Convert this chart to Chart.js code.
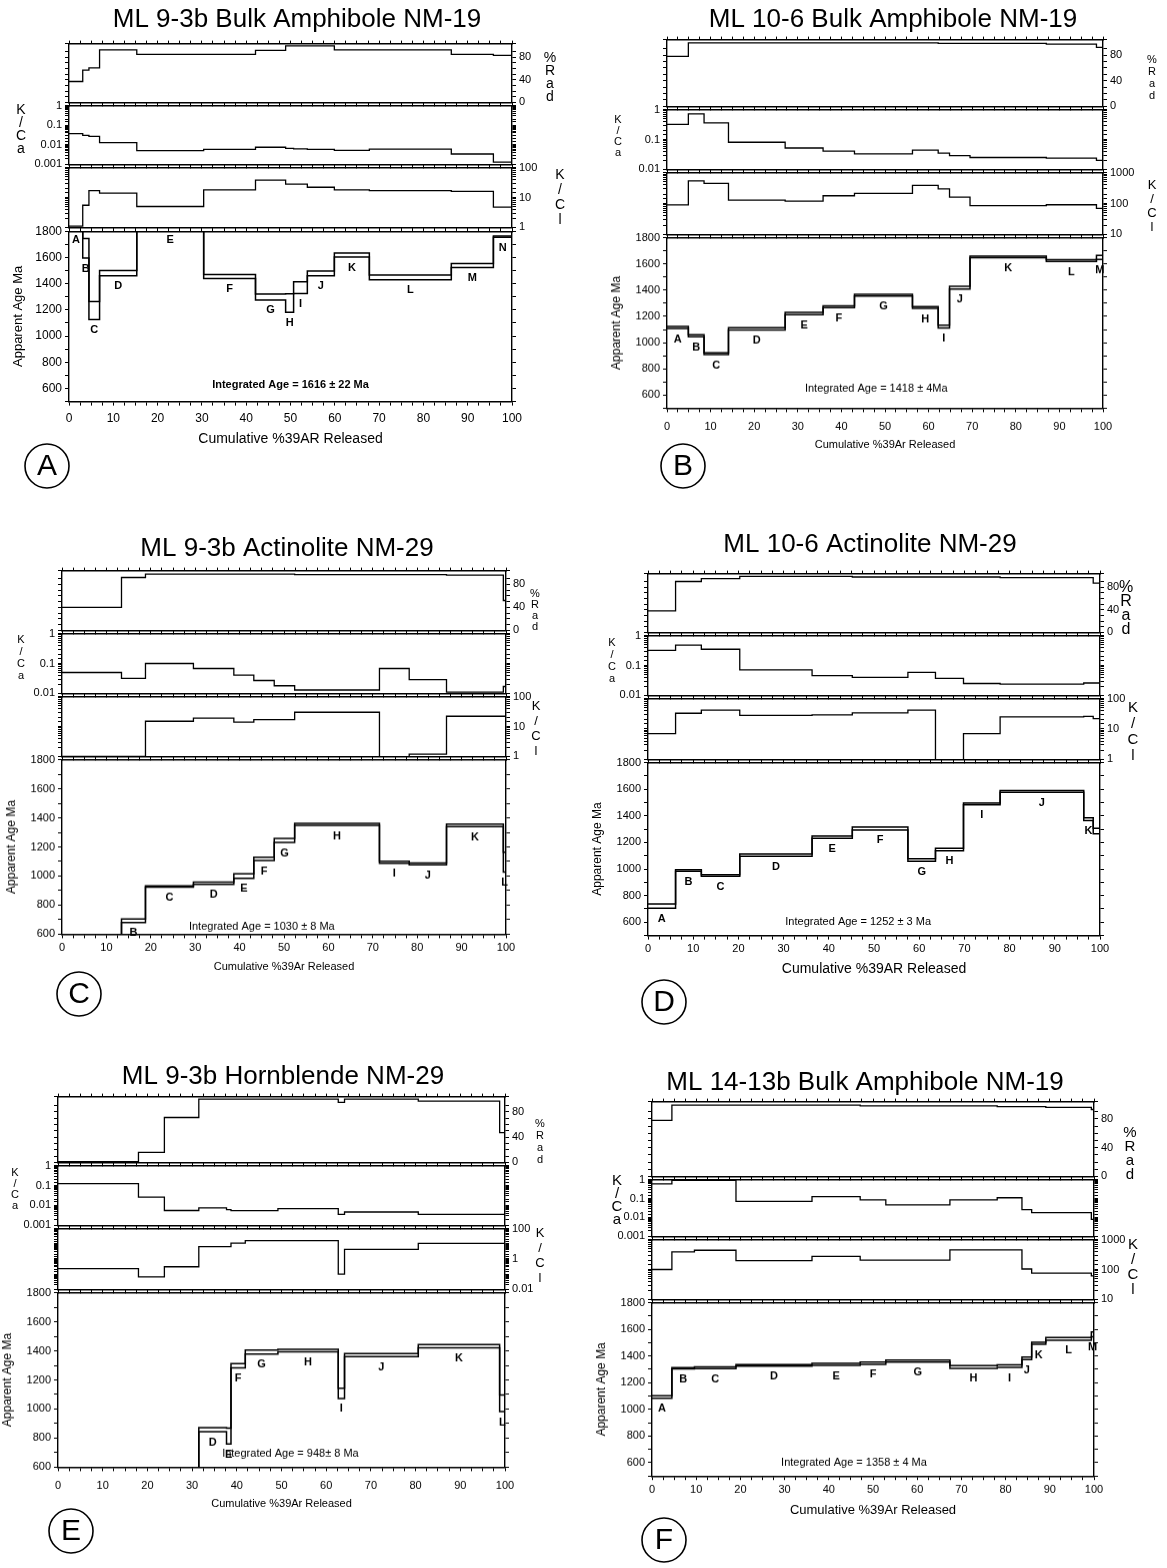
<!DOCTYPE html>
<html>
<head>
<meta charset="utf-8">
<title>40Ar/39Ar step-heating spectra</title>
<script src="https://cdn.jsdelivr.net/npm/chart.js@4.4.1/dist/chart.umd.min.js"></script>
<style>
  html, body { margin: 0; padding: 0; background: #fff; }
  body { position: relative; width: 1167px; height: 1568px; overflow: hidden;
         font-family: "Liberation Sans", Arial, Helvetica, sans-serif; color: #000; }
  canvas { position: absolute; }
</style>
</head>
<body>
<script>
// ---------- axis tick labels ----------
const xTicks     = [0, 10, 20, 30, 40, 50, 60, 70, 80, 90, 100];
const radTicks   = [0, 40, 80];
const ageTicks   = [600, 800, 1000, 1200, 1400, 1600, 1800];
const kcaTicks3  = [1, 0.1, 0.01, 0.001];
const kcaTicks2  = [1, 0.1, 0.01];
const kclTicksLo = [1, 10, 100];
const kclTicksHi = [10, 100, 1000];
const kclTicksWd = [0.01, 1, 100];

// ---------- A: ML 9-3b bulk amphibole NM-19 ----------
const stepsA = ['A','B','C','D','E','F','G','H','I','J','K','L','M','N'];
const cumA   = [0, 3.1, 4.5, 6.9, 15.3, 30.4, 42.1, 48.9, 50.7, 53.8, 59.9, 67.8, 86.3, 95.8, 100];
const ageA   = [1825, 1670, 1195, 1480, 1900, 1455, 1298, 1252, 1370, 1478, 1618, 1448, 1538, 1758];
const errA   = [15, 75, 68, 20, 20, 15, 22, 70, 45, 18, 15, 18, 15, 5];
const radA   = [37, 57, 61, 93, 85, 85, 92, 100, 100, 100, 93, 93, 85, 83];
const kcaA   = [0.037, 0.030, 0.027, 0.013, 0.0050, 0.0058, 0.0075, 0.0065, 0.0062, 0.0058, 0.0052, 0.0060, 0.0034, 0.0013];
const kclA   = [1.1, 5.5, 17, 14, 5, 18, 38, 28, 28, 22, 18, 17, 16, 4.8];

// ---------- B: ML 10-6 bulk amphibole NM-19 ----------
const stepsB = ['A','B','C','D','E','F','G','H','I','J','K','L','M'];
const cumB   = [0, 4.9, 8.5, 14.1, 27.1, 35.8, 43, 56.3, 62.2, 64.8, 69.5, 87, 98.5, 100];
const ageB   = [1115, 1052, 915, 1105, 1222, 1273, 1362, 1268, 1122, 1419, 1653, 1625, 1650];
const errB   = [8, 8, 7, 8, 9, 7, 7, 7, 10, 10, 6, 7, 15];
const radB   = [78, 99, 99, 99, 99, 99, 99, 99, 98, 98, 98, 97, 92];
const kcaB   = [0.32, 0.72, 0.36, 0.081, 0.052, 0.041, 0.033, 0.044, 0.035, 0.029, 0.025, 0.024, 0.020];
const kclB   = [90, 540, 450, 128, 120, 178, 212, 386, 296, 160, 85, 91, 70];

// ---------- C: ML 9-3b actinolite NM-29 ----------
const stepsC = ['A','B','C','D','E','F','G','H','I','J','K','L'];
const cumC   = [0, 13.4, 18.8, 29.6, 38.7, 43.2, 47.8, 52.4, 71.5, 78.2, 86.6, 99.4, 100];
const ageC   = [560, 692, 928, 950, 1000, 1118, 1245, 1355, 1095, 1083, 1348, 1095];
const errC   = [10, 12, 5, 8, 15, 12, 14, 7, 7, 6, 9, 68];
const radC   = [40, 92, 98, 98, 98, 98, 98, 97, 97, 97, 96, 52];
const kcaC   = [0.05, 0.032, 0.1, 0.068, 0.041, 0.027, 0.018, 0.013, 0.068, 0.029, 0.011, 0.017];
const kclC   = [1, 1, 15, 19, 14, 17, 17, 30, 0.9, 1.2, 22, 22];

// ---------- D: ML 10-6 actinolite NM-29 ----------
const stepsD = ['A','B','C','D','E','F','G','H','I','J','K',''];
const cumD   = [0, 6.1, 11.8, 20.3, 36.3, 45.2, 57.5, 63.6, 69.8, 77.9, 96.4, 98.5, 100];
const ageD   = [722, 989, 952, 1105, 1240, 1305, 1068, 1147, 1490, 1584, 1375, 1286];
const errD   = [16, 6, 6, 9, 9, 11, 9, 9, 6, 6, 10, 20];
const radD   = [38, 90, 95, 99, 99, 98, 98, 98, 98, 97, 97, 87];
const kcaD   = [0.32, 0.48, 0.35, 0.071, 0.046, 0.040, 0.059, 0.037, 0.025, 0.024, 0.026, 0.026];
const kclD   = [7, 33, 42, 28, 29, 34, 42, 0.9, 7, 25, 26, 22];

// ---------- E: ML 9-3b hornblende NM-29 ----------
const stepsE = ['A','B','C','D','E','F','G','H','I','J','K','L'];
const cumE   = [0, 18, 23.8, 31.5, 37.7, 38.7, 41.9, 49.2, 62.7, 64.1, 80.6, 98.8, 100];
const ageE   = [540, 540, 540, 858, 814, 1298, 1391, 1402, 1108, 1371, 1432, 1039];
const errE   = [5, 5, 5, 14, 54, 15, 14, 9, 35, 11, 11, 57];
const radE   = [1, 16, 71, 100, 100, 100, 100, 100, 95, 100, 97, 47];
const kcaE   = [0.125, 0.026, 0.0056, 0.0075, 0.0062, 0.0055, 0.0055, 0.0069, 0.0036, 0.0047, 0.0036, 0.0036];
const kclE   = [0.23, 0.066, 0.31, 6.6, 6.6, 11, 16, 16, 0.1, 4.3, 10.6, 10.6];

// ---------- F: ML 14-13b bulk amphibole NM-19 ----------
const stepsF = ['A','B','C','D','E','F','G','H','I','J','K','L','M'];
const cumF   = [0, 4.5, 9.6, 19, 36.2, 47.1, 52.9, 67.4, 78.1, 83.7, 85.9, 89.1, 99.4, 100];
const ageF   = [1093, 1308, 1312, 1330, 1338, 1346, 1362, 1318, 1324, 1383, 1496, 1529, 1562];
const errF   = [9, 5, 6, 6, 8, 8, 8, 10, 9, 10, 8, 10, 18];
const radF   = [78, 99, 99, 99, 99, 98, 98, 98, 97, 97, 97, 96, 93];
const kcaF   = [0.6, 0.9, 0.9, 0.07, 0.126, 0.085, 0.046, 0.085, 0.11, 0.026, 0.018, 0.018, 0.008];
const kclF   = [100, 389, 440, 197, 276, 206, 206, 454, 454, 104, 76, 76, 61];

// ---------- page layout of the six panels ----------
const panels = [
  { label: 'A', title: 'ML 9-3b Bulk Amphibole NM-19', tx: 297, ty: 20,
    L: 69, R: 512, T: 42, y1: 104, y2: 166, y3: 229, B: 402, ageMin: 500,
    kca: { min: 0.001, max: 1, ticks: kcaTicks3 }, kcl: { min: 1, max: 100, ticks: kclTicksLo },
    xTitle: 'Cumulative %39AR Released', titleY: 440, titleSize: 14, tickPad: 6, tickSize: 12,
    integrated: 'Integrated Age = 1616 ± 22 Ma', intX: 0.5, intY: 0.905, intFont: 'bold 11px',
    circle: [47, 466, 22],
    kcaLab: [21, 104, 14, 13], radLab: [550, 52, 14, 13], kclLab: [560, 168, 14, 15],
    steps: stepsA, cum: cumA, age: ageA, err: errA, rad: radA, kcaV: kcaA, kclV: kclA },
  { label: 'B', title: 'ML 10-6 Bulk Amphibole NM-19', tx: 893, ty: 20,
    L: 667, R: 1103, T: 38, y1: 108, y2: 171, y3: 236, B: 408, ageMin: 500,
    kca: { min: 0.01, max: 1, ticks: kcaTicks2 }, kcl: { min: 10, max: 1000, ticks: kclTicksHi },
    xTitle: 'Cumulative %39Ar Released', titleY: 445, titleSize: 11, tickPad: 8, tickSize: 11,
    integrated: 'Integrated Age = 1418 ± 4Ma', intX: 0.48, intY: 0.884, intFont: '11px',
    circle: [683, 466, 22],
    kcaLab: [618, 114, 11, 11], radLab: [1152, 54, 11, 12], kclLab: [1152, 178, 13, 14],
    steps: stepsB, cum: cumB, age: ageB, err: errB, rad: radB, kcaV: kcaB, kclV: kclB },
  { label: 'C', title: 'ML 9-3b Actinolite NM-29', tx: 287, ty: 549,
    L: 62, R: 506, T: 569, y1: 632, y2: 695, y3: 758, B: 934, ageMin: 600,
    kca: { min: 0.01, max: 1, ticks: kcaTicks2 }, kcl: { min: 1, max: 100, ticks: kclTicksLo },
    xTitle: 'Cumulative %39Ar Released', titleY: 967, titleSize: 11, tickPad: 3, tickSize: 11,
    integrated: 'Integrated Age = 1030 ± 8 Ma', intX: 0.45, intY: 0.955, intFont: '11px',
    circle: [79, 994, 22],
    kcaLab: [21, 634, 11, 12], radLab: [535, 588, 11, 11], kclLab: [536, 699, 13, 15],
    steps: stepsC, cum: cumC, age: ageC, err: errC, rad: radC, kcaV: kcaC, kclV: kclC },
  { label: 'D', title: 'ML 10-6 Actinolite NM-29', tx: 870, ty: 545,
    L: 648, R: 1100, T: 572, y1: 634, y2: 697, y3: 761, B: 936, ageMin: 500,
    kca: { min: 0.01, max: 1, ticks: kcaTicks2 }, kcl: { min: 1, max: 100, ticks: kclTicksLo },
    xTitle: 'Cumulative %39AR Released', titleY: 970, titleSize: 14, tickPad: 3, tickSize: 11,
    integrated: 'Integrated Age = 1252 ± 3 Ma', intX: 0.465, intY: 0.92, intFont: '11px',
    circle: [664, 1002, 22],
    kcaLab: [612, 637, 11, 12], radLab: [1126, 581, 16, 14], kclLab: [1133, 700, 15, 16],
    steps: stepsD, cum: cumD, age: ageD, err: errD, rad: radD, kcaV: kcaD, kclV: kclD },
  { label: 'E', title: 'ML 9-3b Hornblende NM-29', tx: 283, ty: 1077,
    L: 58, R: 505, T: 1095, y1: 1164, y2: 1227, y3: 1291, B: 1467, ageMin: 600,
    kca: { min: 0.001, max: 1, ticks: kcaTicks3 }, kcl: { min: 0.01, max: 100, ticks: kclTicksWd },
    xTitle: 'Cumulative %39Ar Released', titleY: 1504, titleSize: 11, tickPad: 8, tickSize: 11,
    integrated: 'Integrated Age = 948± 8 Ma', intX: 0.52, intY: 0.92, intFont: '11px',
    circle: [71, 1531, 22],
    kcaLab: [15, 1167, 11, 11], radLab: [540, 1118, 11, 12], kclLab: [540, 1226, 13, 15],
    steps: stepsE, cum: cumE, age: ageE, err: errE, rad: radE, kcaV: kcaE, kclV: kclE },
  { label: 'F', title: 'ML 14-13b Bulk Amphibole NM-19', tx: 865, ty: 1083,
    L: 652, R: 1094, T: 1100, y1: 1178, y2: 1238, y3: 1301, B: 1476, ageMin: 500,
    kca: { min: 0.001, max: 1, ticks: kcaTicks3 }, kcl: { min: 10, max: 1000, ticks: kclTicksHi },
    xTitle: 'Cumulative %39Ar Released', titleY: 1510, titleSize: 13, tickPad: 3, tickSize: 11,
    integrated: 'Integrated Age = 1358 ± 4 Ma', intX: 0.457, intY: 0.925, intFont: '11px',
    circle: [664, 1540, 22],
    kcaLab: [617, 1174, 15, 13], radLab: [1130, 1126, 15, 14], kclLab: [1133, 1237, 15, 15],
    steps: stepsF, cum: cumF, age: ageF, err: errF, rad: radF, kcaV: kcaF, kclV: kclF }
];

// ---------- drawing ----------
const FONT = '"Liberation Sans", Arial, Helvetica, sans-serif';
Chart.defaults.font.family = FONT;
Chart.defaults.color = '#000';

const LEFT_W = 60, RIGHT_W = 40, PAD_T = 8, PAD_B = 8;

function addCanvas(x, y, w, h) {
  const c = document.createElement('canvas');
  c.width = w; c.height = h;
  Object.assign(c.style, { left: x + 'px', top: y + 'px', width: w + 'px', height: h + 'px' });
  document.body.appendChild(c);
  return c;
}

// step series: each value holds from its left boundary to the next
function stepPoints(cum, vals) {
  const pts = vals.map((v, i) => ({ x: cum[i], y: v }));
  pts.push({ x: cum[cum.length - 1], y: vals[vals.length - 1] });
  return pts;
}

const linLabel = list => v => (list.find(t => Math.abs(t - v) < 1e-6) !== undefined ? String(v) : '');
const logLabel = list => v => {
  const hit = list.find(t => Math.abs(Math.log10(v) - Math.log10(t)) < 1e-6);
  return hit === undefined ? '' : String(hit);
};

function frameGrid(len) {
  return { drawOnChartArea: false, drawTicks: true, tickLength: len, color: '#000', lineWidth: 1 };
}
const frameBorder = { display: true, color: '#000', width: 1.4 };

function yAxis(pos, cfg, showLabels, fontSize, title) {
  const ax = {
    type: cfg.type, position: pos, min: cfg.min, max: cfg.max,
    afterFit: s => { s.width = pos === 'left' ? LEFT_W : RIGHT_W; },
    grid: frameGrid(4), border: frameBorder,
    ticks: { display: showLabels, autoSkip: false, padding: 3, font: { size: fontSize },
             callback: cfg.type === 'logarithmic' ? logLabel(cfg.labels) : linLabel(cfg.labels) }
  };
  if (cfg.step) ax.ticks.stepSize = cfg.step;
  if (title) ax.title = title;
  return ax;
}

function xAxes(bottomH, showLabels, p) {
  const x = {
    type: 'linear', position: 'bottom', min: 0, max: 100,
    afterFit: s => { s.height = bottomH; },
    grid: frameGrid(4), border: frameBorder,
    ticks: { display: showLabels, stepSize: 2.5, autoSkip: false, maxRotation: 0, padding: p.tickPad,
             font: { size: p.tickSize }, callback: linLabel(xTicks) }
  };
  if (showLabels) {
    x.title = { display: true, text: p.xTitle, font: { size: p.titleSize }, padding: { top: 0, bottom: 4 } };
  }
  const xt = {
    type: 'linear', position: 'top', min: 0, max: 100,
    afterFit: s => { s.height = PAD_T; },
    grid: frameGrid(3), border: frameBorder,
    ticks: { display: false, stepSize: 2.5, autoSkip: false }
  };
  return { x, xt };
}

function lineSet(points, width) {
  return { data: points, borderColor: '#000', borderWidth: width, stepped: true, pointRadius: 0,
           fill: false, xAxisID: 'x', yAxisID: 'y' };
}

function baseOptions(scales) {
  return {
    responsive: false, animation: false, devicePixelRatio: 1,
    layout: { padding: 0 },
    plugins: { legend: { display: false }, tooltip: { enabled: false } },
    elements: { point: { radius: 0 }, line: { tension: 0 } },
    scales
  };
}

// one of the three upper strips (%Rad, K/Ca, K/Cl)
function strip(p, top, bottom, cfg, labelSide, values) {
  const X = p.L - LEFT_W, W = p.R - p.L + LEFT_W + RIGHT_W;
  const canvas = addCanvas(X, top - PAD_T, W, PAD_T + (bottom - top) + PAD_B);
  const { x, xt } = xAxes(PAD_B, false, p);
  new Chart(canvas, {
    type: 'line',
    data: { datasets: [lineSet(stepPoints(p.cum, values), 1.3)] },
    options: baseOptions({
      x, xt,
      y: yAxis('left', cfg, labelSide === 'left', 11),
      y2: yAxis('right', cfg, labelSide === 'right', 11)
    })
  });
}

// step labels and integrated age written on the age spectrum
function spectrumText(p) {
  return {
    id: 'spectrumText',
    afterDatasetsDraw(chart) {
      const { ctx, chartArea: a, scales } = chart;
      const xs = scales.x, ys = scales.y;
      ctx.save();
      ctx.fillStyle = '#000';
      ctx.textAlign = 'center';
      ctx.textBaseline = 'top';
      ctx.font = 'bold 11px ' + FONT;
      p.steps.forEach((s, i) => {
        if (!s) return;
        const lo = p.age[i] - p.err[i], hi = p.age[i] + p.err[i];
        if (hi < ys.min) return;
        const cx = xs.getPixelForValue((p.cum[i] + p.cum[i + 1]) / 2);
        const ty = lo > ys.max ? a.top + 3 : ys.getPixelForValue(lo) + 5;
        ctx.fillText(s, cx, ty);
      });
      ctx.font = p.intFont + ' ' + FONT;
      ctx.textBaseline = 'middle';
      ctx.fillText(p.integrated, a.left + a.width * p.intX, a.top + a.height * p.intY);
      ctx.restore();
    }
  };
}

function ageStrip(p) {
  const X = p.L - LEFT_W, W = p.R - p.L + LEFT_W + RIGHT_W;
  const bottomH = p.titleY - p.B + 4 + p.titleSize * 0.6;
  const canvas = addCanvas(X, p.y3 - PAD_T, W, PAD_T + (p.B - p.y3) + bottomH);
  const { x, xt } = xAxes(bottomH, true, p);
  const cfg = { type: 'linear', min: p.ageMin, max: 1800, step: 100, labels: ageTicks };
  const upper = p.age.map((a, i) => a + p.err[i]);
  const lower = p.age.map((a, i) => a - p.err[i]);
  new Chart(canvas, {
    type: 'line',
    data: { datasets: [lineSet(stepPoints(p.cum, upper), 1.5), lineSet(stepPoints(p.cum, lower), 1.5)] },
    options: baseOptions({
      x, xt,
      y: yAxis('left', cfg, true, p.tickSize,
               { display: true, text: 'Apparent Age Ma', font: { size: p.tickSize + 1 }, padding: { top: 2, bottom: 2 } }),
      y2: yAxis('right', cfg, false, 11)
    }),
    plugins: [spectrumText(p)]
  });
}

// page furniture: panel titles, circled panel letters, stacked axis names
const page = addCanvas(0, 0, 1167, 1568);
const pctx = page.getContext('2d');
pctx.fillStyle = '#000';
pctx.strokeStyle = '#000';
pctx.textAlign = 'center';
pctx.textBaseline = 'middle';

function stackedLabel(letters, spec) {
  const [cx, top, size, lh] = spec;
  pctx.font = size + 'px ' + FONT;
  letters.forEach((ch, i) => pctx.fillText(ch, cx, top + lh * i + lh / 2));
}

panels.forEach(p => {
  pctx.font = '26px ' + FONT;
  pctx.fillText(p.title, p.tx, p.ty);
  const [cx, cy, r] = p.circle;
  pctx.lineWidth = 1.6;
  pctx.beginPath();
  pctx.arc(cx, cy, r, 0, Math.PI * 2);
  pctx.stroke();
  pctx.font = '30px ' + FONT;
  pctx.fillText(p.label, cx, cy + 1);
  stackedLabel(['K', '/', 'C', 'a'], p.kcaLab);
  stackedLabel(['%', 'R', 'a', 'd'], p.radLab);
  stackedLabel(['K', '/', 'C', 'l'], p.kclLab);

  strip(p, p.T, p.y1, { type: 'linear', min: 0, max: 104, step: 10, labels: radTicks }, 'right', p.rad);
  strip(p, p.y1, p.y2, { type: 'logarithmic', min: p.kca.min, max: p.kca.max, labels: p.kca.ticks }, 'left', p.kcaV);
  strip(p, p.y2, p.y3, { type: 'logarithmic', min: p.kcl.min, max: p.kcl.max, labels: p.kcl.ticks }, 'right', p.kclV);
  ageStrip(p);
});
</script>
</body>
</html>
